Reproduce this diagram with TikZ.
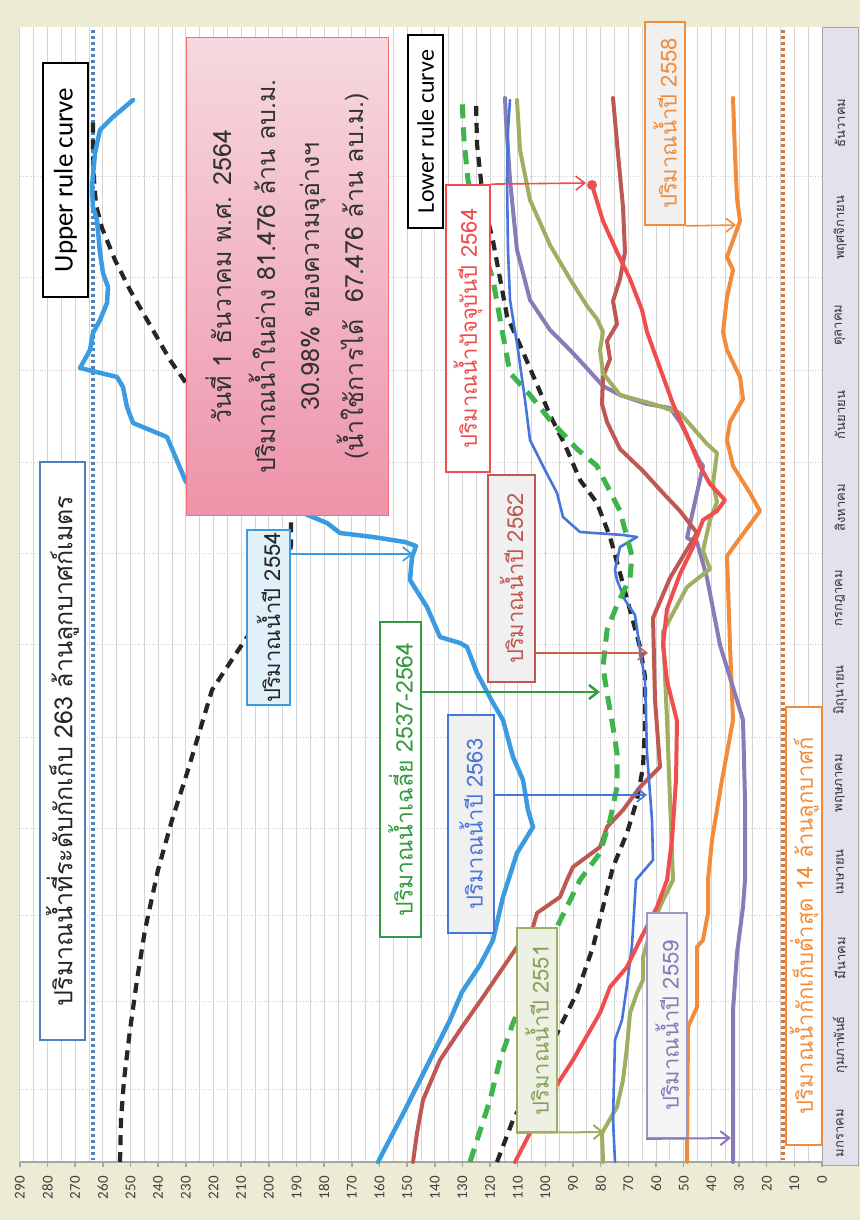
\documentclass[tikz,border=0pt]{standalone}
\usepackage{fontspec}
\newfontfamily\thaifont[Script=Thai]{Loma}
\newfontfamily\calfont{Carlito}
\usetikzlibrary{arrows.meta, positioning}

\definecolor{paper}{HTML}{ECEBD3}
\definecolor{gridc}{HTML}{D4D4D4}
\definecolor{monthbg}{HTML}{E4E1EC}
\definecolor{c2554}{HTML}{3B9BE0}
\definecolor{c2563}{HTML}{4676DA}
\definecolor{cavg}{HTML}{3DB54A}
\definecolor{c2551}{HTML}{9DB062}
\definecolor{c2559}{HTML}{8B7AB8}
\definecolor{c2558}{HTML}{F28C3A}
\definecolor{c2562}{HTML}{BF5852}
\definecolor{c2564}{HTML}{F04E4E}
\definecolor{cmax}{HTML}{4F81BD}
\definecolor{cmin}{HTML}{D2793F}
\definecolor{pinklight}{HTML}{F6D9E0}
\definecolor{pinkdark}{HTML}{EE93AA}

\tikzset{
  curve/.style={line width=4pt, line join=round, line cap=round},
  rulecurve/.style={line width=4.2pt, black!85, line join=round, dash pattern=on 10pt off 7pt},
  lblbox/.style={draw, line width=1.8pt, rotate=90, fill=white, inner sep=1pt,
    font=\thaifont\fontsize{22}{26}\selectfont},
  pointer/.style={-{Straight Barb[length=9pt,width=14pt]}, line width=1.6pt},
}

\begin{document}
\begin{tikzpicture}[x=1pt, y=-1pt]
\useasboundingbox (0,0) rectangle (860,1220);
\fill[paper] (0,0) rectangle (860,1220);
\fill[white] (20,27) rectangle (822,1162);

% grid
\foreach \k in {1,...,58}
  \draw[gridc, line width=0.8pt] ({822-13.83*\k},27) -- ({822-13.83*\k},1162);
\foreach \m in {1089,1001,915,828,737,644,553,462,370,277,176}
  \draw[gray!40, dotted, line width=0.8pt] (20,\m) -- (822,\m);

% value axis
\draw[gray!70, line width=2.5pt] (20,1162) -- (822,1162);
\foreach \v in {0,10,...,290}{
  \draw[gray!70, line width=1.5pt] ({822-2.766*\v},1162) -- ({822-2.766*\v},1167);
  \node[rotate=90, anchor=east, inner sep=0pt, font=\calfont\fontsize{15}{15}\selectfont, text=black!75]
    at ({822-2.766*\v},1176) {\v};
}

% months
\node[draw=gray!70, fill=monthbg, line width=1pt, minimum width=36, minimum height=1138, anchor=north west]
  (monthbar) at (822,27) {};
\foreach \y/\t in {1133/มกราคม, 1045/กุมภาพันธ์, 958/มีนาคม, 872/เมษายน, 783/พฤษภาคม, 690/มิถุนายน,
  598/กรกฎาคม, 508/สิงหาคม, 415/กันยายน, 325/ตุลาคม, 228/พฤศจิกายน, 123/ธันวาคม}
  \node[rotate=90, font=\thaifont\fontsize{13}{13}\selectfont, text=black!80] at (840,\y) {\t};

% capacity and minimum levels
\draw[cmax, line width=3.5pt, dash pattern=on 3pt off 3pt] (93,30) -- (93,1160);
\draw[cmin, line width=3.5pt, dash pattern=on 3pt off 3pt] (783,30) -- (783,1160);

% rule curves
\draw[rulecurve] plot coordinates {(120,1162) (121,1120) (124,1080) (130,1030) (137,980) (145,930)
  (158,870) (172,820) (188,770) (200,730) (212,690) (235,655) (262,615) (285,580) (291,545)
  (291,515) (240,450) (186,383) (170,360) (150,325) (130,290) (115,260) (102,228) (96,205)
  (94,180) (93,150) (93,118)};
\draw[rulecurve] plot coordinates {(497,1162) (513,1120) (540,1070) (560,1027) (577,993) (593,947)
  (613,867) (627,833) (637,800) (643,767) (645,727) (645,677) (640,647) (630,610) (620,573)
  (610,537) (597,503) (580,480) (565,445) (550,415) (535,380) (520,345) (507,316) (493,241)
  (488,220) (482,190) (477,144) (476,100)};

% water level curves
\draw[curve, c2558] plot coordinates {(687,1162) (688,1027) (697,1007) (697,947) (703,940) (708,913)
  (708,880) (712,840) (722,780) (733,720) (730,645) (727,556) (740,538) (760,511) (750,493)
  (733,466) (727,440) (730,422) (743,399) (740,377) (727,350) (723,332) (727,297) (733,270)
  (727,257) (740,221) (737,199) (735,154) (733,98)};
\draw[curve, c2559] plot coordinates {(733,1162) (733,1010) (737,953) (743,907) (745,880) (745,800)
  (743,720) (720,645) (707,578) (697,542) (687,538) (690,524) (703,466) (700,462) (680,422)
  (670,408) (647,404) (620,395) (603,386) (583,364) (570,350) (550,330) (530,300) (517,250)
  (510,180) (506,120) (505,98)};
\draw[curve, c2562] plot coordinates {(413,1162) (417,1133) (423,1100) (440,1060) (460,1030) (483,997)
  (517,947) (533,927) (537,913) (560,897) (567,880) (573,867) (600,847) (607,827) (623,810)
  (640,787) (660,767) (655,700) (653,618) (670,578) (697,533) (680,511) (663,493) (643,471)
  (620,449) (607,422) (602,404) (603,377) (610,359) (607,341) (617,324) (613,301) (620,279)
  (625,252) (623,207) (618,154) (613,98)};
\draw[curve, c2551] plot coordinates {(603,1162) (602,1133) (617,1107) (623,1080) (627,1047) (630,1013)
  (637,993) (643,980) (643,957) (653,923) (663,900) (673,880) (670,800) (667,720) (663,632)
  (687,587) (710,569) (703,551) (710,520) (717,502) (713,484) (717,453) (707,444) (680,413)
  (653,404) (620,395) (603,373) (600,350) (603,332) (597,319) (587,306) (570,279) (550,245)
  (530,200) (520,150) (517,100)};
\draw[curve, c2563, line width=2.6pt] plot coordinates {(615,1162) (613,1120) (615,1040) (622,1020)
  (627,985) (632,945) (636,880) (653,860) (652,820) (647,753) (645,680) (640,650) (635,615)
  (625,600) (617,580) (615,570) (620,547) (637,537) (623,535) (580,532) (563,517) (557,493)
  (545,470) (530,440) (525,400) (518,350) (510,300) (508,250) (507,180) (508,130) (510,100)};
\draw[curve, c2564] plot coordinates {(515,1162) (530,1133) (545,1105) (560,1080) (573,1060) (600,1013)
  (610,987) (627,967) (640,940) (657,907) (667,880) (672,840) (676,780) (677,721) (667,681)
  (663,645) (667,609) (680,574) (693,547) (703,520) (717,511) (725,500) (710,484) (700,466)
  (687,435) (673,404) (660,368) (647,332) (642,310) (630,279) (617,252) (603,221) (592,185)};
\fill[c2564] (592,185) circle (5);
\draw[curve, cavg, line width=5pt, line cap=butt, dash pattern=on 14pt off 9pt] plot coordinates {
  (470,1162) (490,1100) (500,1060) (513,1023) (540,965) (557,927) (580,880) (600,853) (610,820)
  (617,787) (617,753) (613,727) (607,693) (603,667) (607,630) (617,605) (630,578) (632,556)
  (620,511) (597,466) (577,449) (550,420) (530,395) (510,373) (502,330) (493,280) (484,250)
  (475,215) (468,180) (464,140) (462,98)};
\draw[curve, c2554, line width=4.5pt] plot coordinates {(378,1162) (392,1135) (405,1110) (430,1060)
  (450,1020) (462,992) (480,965) (493,940) (503,897) (517,853) (533,827) (528,810) (523,780)
  (513,757) (503,720) (493,703) (477,673) (467,647) (460,643) (440,637) (427,607) (410,580)
  (412,557) (416,546) (405,542) (373,537) (340,533) (327,523) (303,513) (260,500) (186,482)
  (167,437) (133,423) (127,407) (123,387) (117,377) (80,368) (90,350) (93,333) (100,320)
  (107,303) (108,287) (103,273) (100,253) (97,220) (93,207) (92,187) (95,153) (100,130)
  (113,117) (133,100)};

% info box
\node[rotate=90, draw=c2564!80, line width=1pt, top color=pinklight, bottom color=pinkdark,
  minimum width=477, minimum height=202, align=center, text=black!80,
  font=\thaifont\fontsize{25}{44}\selectfont] (info) at (287,276.5)
  {วันที่ 1 ธันวาคม พ.ศ. 2564\\ปริมาณน้ำในอ่าง 81.476 ล้าน ลบ.ม.\\30.98\% ของความจุอ่างฯ\\(น้ำใช้การได้~~67.476 ล้าน ลบ.ม.)};

% labels
\node[lblbox, draw=cmax, minimum width=578, minimum height=45, text=black!85,
  font=\thaifont\fontsize{25}{28}\selectfont] (lblmax) at (62.5,751)
  {ปริมาณน้ำที่ระดับกักเก็บ 263 ล้านลูกบาศก์เมตร};
\node[lblbox, draw=black, minimum width=234, minimum height=45, font=\calfont\fontsize{27}{29}\selectfont]
  (lblupper) at (65.5,180) {Upper rule curve};
\node[lblbox, draw=black, minimum width=193, minimum height=35, font=\calfont\fontsize{24}{26}\selectfont]
  (lbllower) at (425.5,131.5) {Lower rule curve};
\node[lblbox, draw=c2564, minimum width=287, minimum height=44, text=c2564] (lbl2564) at (468,328.5)
  {ปริมาณน้ำปัจจุบันปี 2564};
\node[lblbox, draw=c2562, fill=black!6, minimum width=207, minimum height=47, text=c2562] (lbl2562)
  at (511.5,578.5) {ปริมาณน้ำปี 2562};
\node[lblbox, draw=cavg!85!black, minimum width=315, minimum height=41, text=cavg!85!black,
  font=\thaifont\fontsize{23}{26}\selectfont] (lblavg) at (400.5,779.5) {ปริมาณน้ำเฉลี่ย 2537-2564};
\node[lblbox, draw=c2554, fill=c2554!15, minimum width=175, minimum height=43, text=black!85] (lbl2554)
  at (268.5,617.5) {ปริมาณน้ำปี 2554};
\node[lblbox, draw=c2563, fill=black!6, minimum width=218, minimum height=46, text=c2563] (lbl2563)
  at (471,824) {ปริมาณน้ำปี 2563};
\node[lblbox, draw=c2551, fill=c2551!18, minimum width=204, minimum height=40, text=c2551!90!black]
  (lbl2551) at (537,1030) {ปริมาณน้ำปี 2551};
\node[lblbox, draw=c2559!80, fill=black!4, minimum width=225, minimum height=40, text=c2559] (lbl2559)
  at (667,1025.5) {ปริมาณน้ำปี 2559};
\node[lblbox, draw=c2558, fill=black!6, minimum width=203, minimum height=40, text=c2558] (lbl2558)
  at (665,123.5) {ปริมาณน้ำปี 2558};
\node[lblbox, draw=c2558, minimum width=438, minimum height=36, text=c2558] (lblmin) at (804,926)
  {ปริมาณน้ำกักเก็บต่ำสุด 14 ล้านลูกบาศก์};

% pointers
\coordinate (tip2564) at (586,183);
\coordinate (tip2562) at (648,653);
\coordinate (tipavg) at (600,692);
\coordinate (tip2554) at (413,554);
\coordinate (tip2563) at (647,795);
\coordinate (tip2551) at (604,1132);
\coordinate (tip2559) at (731,1138);
\coordinate (tip2558) at (736,225);
\draw[pointer, c2564] (lbl2564.south east) -- (tip2564);
\draw[pointer, c2562!80!orange] (lbl2562.south |- tip2562) -- (tip2562);
\draw[pointer, cavg!85!black, line width=2.5pt] (lblavg.south |- tipavg) -- (tipavg);
\draw[pointer, c2554] (lbl2554.south |- tip2554) -- (tip2554);
\draw[pointer, c2563] (lbl2563.south |- tip2563) -- (tip2563);
\draw[pointer, c2551, line width=2pt] (lbl2551.north west) -- (tip2551);
\draw[pointer, c2559, line width=2pt] (lbl2559.north west) -- (tip2559);
\draw[pointer, c2558] (lbl2558.south west) -- (tip2558);
\end{tikzpicture}
\end{document}
